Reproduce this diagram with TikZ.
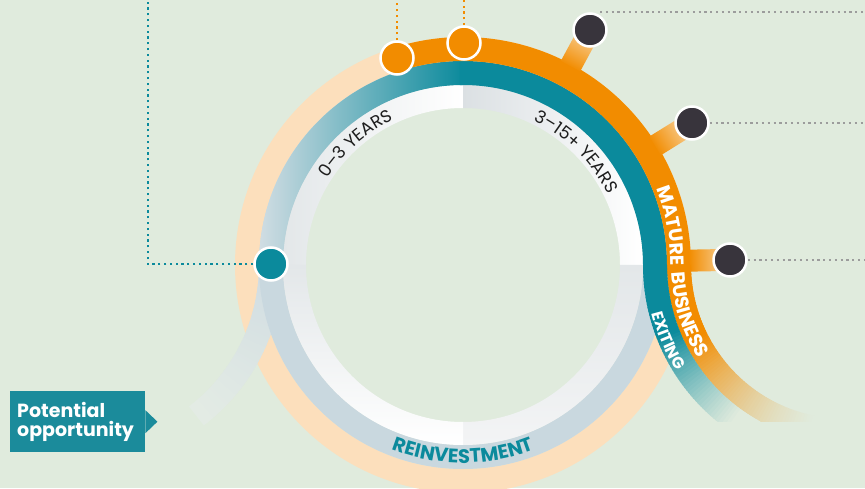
\documentclass[tikz,border=0pt]{standalone}
\usepackage{fontspec}
\setmainfont{Poppins}
\usetikzlibrary{calc,decorations.text}

\definecolor{bgmint}{HTML}{E0EBDD}
\definecolor{ringteal}{HTML}{0B8A9C}
\definecolor{ringorange}{HTML}{F28C00}
\definecolor{ringpeach}{HTML}{FCDFBC}
\definecolor{ringgrey}{HTML}{C9D8DF}
\definecolor{tealpale}{HTML}{D1DDE3}
\definecolor{tailmint}{HTML}{E3EBE4}
\definecolor{paperdim}{HTML}{E3E7E9}
\definecolor{paperdark}{HTML}{DBE0E3}
\definecolor{paperlight}{HTML}{F3F4F5}
\definecolor{stubpale}{HTML}{F8DBB0}
\definecolor{dotdark}{HTML}{38343C}
\definecolor{boxteal}{HTML}{1B8B9B}
\definecolor{linegrey}{HTML}{9C9C9C}
\definecolor{inkgrey}{HTML}{1E1E1E}

% annular piece: centre, inner radius, outer radius, from angle, to angle
\newcommand{\ringband}[5]{($(#1)+(#4:#3)$) arc[start angle=#4,end angle=#5,radius=#3] -- ($(#1)+(#5:#2)$) arc[start angle=#5,end angle=#4,radius=#2] -- cycle}

\tikzset{
  milestone/.style={circle, draw=white, line width=2.5pt, minimum size=33pt, inner sep=0pt},
  dotline/.style={line width=2.2pt, dash pattern=on 2.2pt off 3.6pt},
  ringstroke/.style={line width=24pt},
}

\begin{document}
\begin{tikzpicture}[x=1pt,y=1pt]
\useasboundingbox (0,0) rectangle (865,488);
\clip (0,0) rectangle (865,488);
\fill[bgmint] (0,0) rectangle (865,488);

\coordinate (C) at (463,223);
\coordinate (R) at (845,223);
\coordinate (L) at (81,223);
\coordinate (topedge) at (0,488);
\coordinate (rightedge) at (865,0);
\coordinate (tealcorner) at (148,488);

% outer ring and the fading left branch
\draw[ringstroke, ringpeach] (C) circle[radius=216];
\foreach \a [evaluate=\a as \p using {min(100,max(0,100*(148+190*sin(\a-0.8))/133))}] in {0,-1,...,-51}
  \draw[ringstroke, tealpale!\p!tailmint] ($(L)+(\a:190)$) arc[start angle=\a, end angle=\a-1.6, radius=190];
\draw[ringstroke, ringgrey] (C) circle[radius=192];

% paper ring
\shade[left color=paperdim, right color=white] \ringband{C}{157}{180}{90}{180};
\shade[left color=paperdark, right color=white] \ringband{C}{157}{180}{0}{90};
\shade[top color=paperdim, bottom color=paperlight] \ringband{C}{157}{180}{270}{360};
\shade[top color=paperdim, middle color=white, bottom color=white] \ringband{C}{157}{180}{180}{270};

% teal and orange arcs
\shade[left color=tealpale, right color=ringteal] \ringband{C}{180}{204}{90}{180};
\draw[ringstroke, ringteal] ($(C)+(91:192)$) arc[start angle=91, end angle=0, radius=192];
\draw[ringstroke, ringorange] ($(C)+(106:216)$) arc[start angle=106, end angle=0, radius=216];

\foreach \a [evaluate=\a as \s using \a-90] in {61.6,31.8,1.1}
  \shade[top color=stubpale, bottom color=ringorange, shading angle=\s]
    ($(C)+(\a:226)+({\a+90}:11)$) -- ($(C)+(\a:268)+({\a+90}:11)$)
    -- ($(C)+(\a:268)+({\a-90}:11)$) -- ($(C)+(\a:226)+({\a-90}:11)$) -- cycle;

% right branches, fading out downwards
\begin{scope}
\clip (0,67) rectangle (865,488);
\foreach \a [evaluate=\a as \p using {min(100,max(0,100*(155+158*sin(\a+0.8))/85))}] in {180,...,268}
  \draw[ringstroke, ringorange!\p!bgmint] ($(R)+(\a:166)$) arc[start angle=\a, end angle=\a+1.6, radius=166];
\foreach \a [evaluate=\a as \p using {min(100,max(0,100*(155+190*sin(\a+0.8))/85))}] in {180,...,240}
  \draw[ringstroke, ringteal!\p!bgmint] ($(R)+(\a:190)$) arc[start angle=\a, end angle=\a+1.6, radius=190];
\end{scope}

% ring labels
\path[decorate, decoration={text along path, text align=center,
    text={|\color{inkgrey}\fontsize{17.5}{17.5}\selectfont|0–3 YEARS}}]
  ($(C)+(161.5:161)$) arc[start angle=161.5, end angle=101.5, radius=161];
\path[decorate, decoration={text along path, text align=center,
    text={|\color{inkgrey}\fontsize{17.5}{17.5}\selectfont|3–15+ YEARS}}]
  ($(C)+(76:161)$) arc[start angle=76, end angle=14, radius=161];
\path[decorate, decoration={text along path, text align=center,
    text={|\color{ringteal}\bfseries\fontsize{19.5}{19.5}\selectfont|REINVESTMENT}}]
  ($(C)+(232:198)$) arc[start angle=232, end angle=308, radius=198];
\path[decorate, decoration={text along path,
    text={|\color{white}\bfseries\fontsize{19}{19}\selectfont|MATURE{\hbox to 7pt{}}BUSINESS}}]
  ($(C)+(21.5:208)$) arc[start angle=21.5, end angle=0, radius=208]
  arc[start angle=180, end angle=230, radius=174];
\path[decorate, decoration={text along path,
    text={|\color{white}\bfseries\fontsize{16}{16}\selectfont|EXITING}}]
  ($(R)+(194:199)$) arc[start angle=194, end angle=240, radius=199];

% markers and leader lines
\node[milestone, fill=ringteal] (tdot) at (271,224) {};
\node[milestone, fill=ringorange] (odotA) at (397,430) {};
\node[milestone, fill=ringorange] (odotB) at (464,445) {};
\node[milestone, fill=dotdark] (darkA) at (590,458) {};
\node[milestone, fill=dotdark] (darkB) at (692,365) {};
\node[milestone, fill=dotdark] (darkC) at (730,228) {};

\draw[dotline, ringteal] (tdot.west) -| (tealcorner);
\draw[dotline, ringorange] (odotA.north) -- (odotA |- topedge);
\draw[dotline, ringorange] (odotB.north) -- (odotB |- topedge);
\draw[dotline, linegrey] ([xshift=10pt]darkA.north) -- (darkA.north -| rightedge);
\draw[dotline, linegrey] (darkB.east) -- (darkB -| rightedge);
\draw[dotline, linegrey] (darkC.east) -- (darkC -| rightedge);

\node[fill=boxteal, text=white, font=\bfseries\fontsize{19}{18.5}\selectfont, text width=121pt,
  inner xsep=7pt, align=left, anchor=north west, minimum height=61pt] (oppbox) at (10,97) {Potential\\opportunity};
\fill[boxteal] ([yshift=11.5pt]oppbox.east) -- ([xshift=12pt]oppbox.east) -- ([yshift=-11.5pt]oppbox.east) -- cycle;
\end{tikzpicture}
\end{document}
